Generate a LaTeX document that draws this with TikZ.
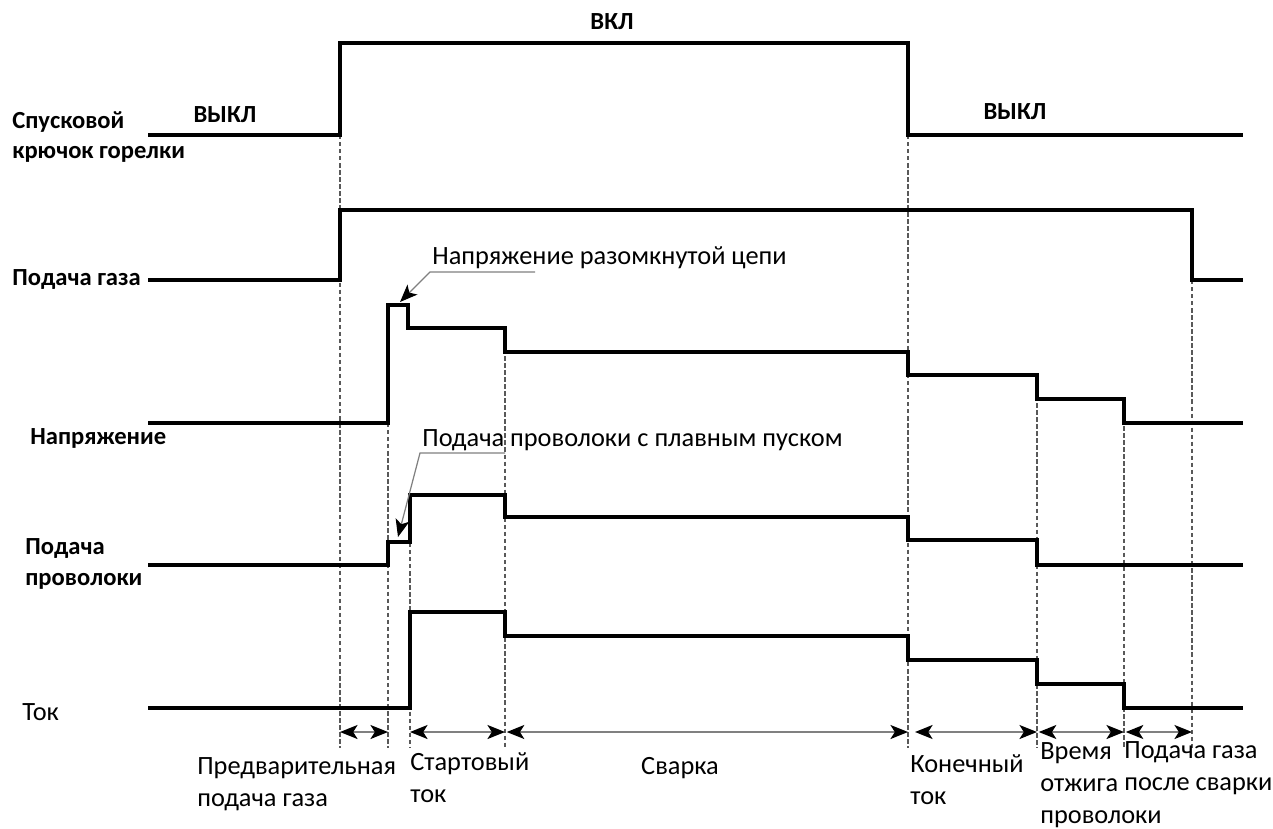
\documentclass[tikz,border=0pt]{standalone}
\usepackage{fontspec}
\setmainfont{Carlito}
\usetikzlibrary{arrows.meta}

\tikzset{
  tipk/.tip={Stealth[length=10pt,width=8pt,inset=2.5pt,color=black,fill=black]}
}

\begin{document}
\begin{tikzpicture}[x=0.02cm, y=-0.02cm,
    wave/.style={line width=2.2pt, line join=miter},
    guide/.style={gray!70!black, line width=0.7pt, dash pattern=on 2.5pt off 1.5pt},
    dim/.style={gray, line width=0.9pt, tipk-tipk},
    lead/.style={gray, line width=0.7pt, tipk-},
    sig/.style={font=\bfseries\fontsize{14}{17.5}\selectfont, inner sep=0pt, align=left, anchor=west},
    txt/.style={font=\fontsize{15}{18.4}\selectfont, inner sep=0pt, align=left, anchor=west}]
    \useasboundingbox (0,0) rectangle (1273,828);
    % time marks
    \foreach \x/\y in {340/135, 388/423, 410/543, 505/328, 908/135, 1037/375, 1124/398, 1192/280}
      \draw[guide] (\x,\y) -- (\x,748);
\coordinate (m1) at (340,732); \coordinate (m2) at (388,732); % pre-gas
\coordinate (m3) at (410,732); \coordinate (m4) at (505,732); % start
\coordinate (m5) at (908,732); \coordinate (m6) at (1037,732); % crater
\coordinate (m7) at (1124,732); \coordinate (m8) at (1192,732); % burnback, post-gas
    % waveforms
\draw[wave] (148,135) -- (340,135) -- (340,43) -- (908,43) -- (908,135) -- (1243,135) ; % trigger
\draw[wave] (148,280) -- (340,280) -- (340,210) -- (1192,210) -- (1192,280) -- (1243,280) ; % gas
\draw[wave] (148,423) -- (388,423) -- (388,305) -- (408,305) -- (408,328) -- (505,328) -- (505,352)
  -- (908,352) -- (908,375) -- (1037,375) -- (1037,399) -- (1124,399) -- (1124,423) -- (1243,423) ; % voltage
\draw[wave] (148,565) -- (388,565) -- (388,542) -- (410,542) -- (410,495) -- (505,495) -- (505,517)
  -- (908,517) -- (908,540) -- (1037,540) -- (1037,565) -- (1243,565) ; % wire
\draw[wave] (148,708) -- (410,708) -- (410,612) -- (505,612) -- (505,636) -- (908,636) -- (908,660)
  -- (1037,660) -- (1037,684) -- (1124,684) -- (1124,708) -- (1243,708) ; % current
    % signal names
\node[sig] (trig) at (12,137) {Спусковой\\крючок горелки};
\node[sig] (gas) at (12,280) {Подача газа};
\node[sig] (volt) at (30,438) {Напряжение};
\node[sig] (wire) at (25,564) {Подача\\проволоки};
\node[txt] (cur) at (22,712) {Ток};
\node[sig, anchor=center] (off1) at (225,115) {ВЫКЛ};
\node[sig, anchor=center] (on) at (612,22) {ВКЛ};
\node[sig, anchor=center] (off2) at (1015,112) {ВЫКЛ};
    % notes
\node[txt] (ocv) at (432,258) {Напряжение разомкнутой цепи};
\coordinate (ocvtip) at (400,302); \coordinate (ocvknee) at (430,272);
\draw[lead] (ocvtip) -- (ocvknee) -- ++(105,0) ;
\node[txt] (soft) at (422,440) {Подача проволоки с плавным пуском};
\coordinate (softtip) at (398,537); \coordinate (softknee) at (420,453);
\draw[lead] (softtip) -- (softknee) -- ++(85,0) ;
    % intervals
\draw[dim] (m1) -- (m2) ;
\draw[dim] (m3) -- (m4) ;
\draw[dim, shorten <=1pt] (m4) -- (m5) ;
\draw[dim, shorten <=4pt] (m5) -- (m6) ;
\draw[dim, shorten <=1pt] (m6) -- (m7) ;
\draw[dim, shorten <=1pt] (m7) -- (m8) ;
\node[txt] (pre) at (197,784) {Предварительная\\подача газа};
\node[txt] (start) at (410,778) {Стартовый\\ток};
\node[txt, anchor=center] (weld) at (680,768) {Сварка};
\node[txt] (crater) at (910,780) {Конечный\\ток};
\node[txt] (burn) at (1040,785) {Время\\отжига\\проволоки};
\node[txt] (post) at (1124,768) {Подача газа\\после сварки};
\end{tikzpicture}
\end{document}
